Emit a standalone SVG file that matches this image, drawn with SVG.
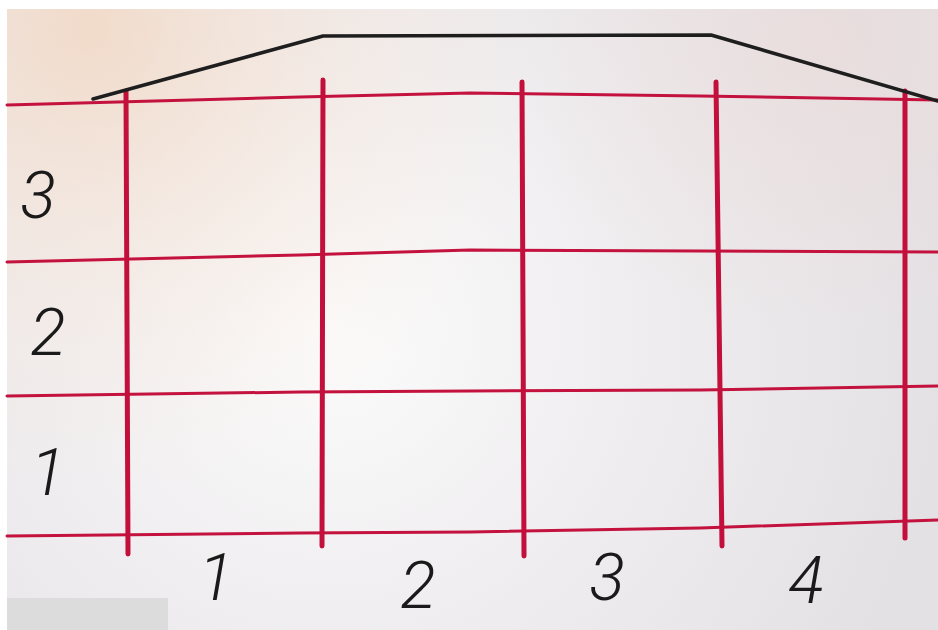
<svg xmlns="http://www.w3.org/2000/svg" width="938" height="630" viewBox="0 0 938 630">
<defs>
<radialGradient id="paper" cx="330" cy="330" r="620" gradientUnits="userSpaceOnUse">
<stop offset="0" stop-color="#fcfcfc"/>
<stop offset="0.5" stop-color="#efedef"/>
<stop offset="1" stop-color="#e4e1e4"/>
</radialGradient>
<radialGradient id="peach" cx="90" cy="30" r="460" gradientUnits="userSpaceOnUse">
<stop offset="0" stop-color="#f2d8c4" stop-opacity="0.85"/>
<stop offset="0.45" stop-color="#f5e2d4" stop-opacity="0.5"/>
<stop offset="1" stop-color="#f5e6dc" stop-opacity="0"/>
</radialGradient>
<radialGradient id="pinkR" cx="820" cy="40" r="300" gradientUnits="userSpaceOnUse">
<stop offset="0" stop-color="#ecdad8" stop-opacity="0.6"/>
<stop offset="1" stop-color="#ecdad8" stop-opacity="0"/>
</radialGradient>
</defs>
<style>
.h{fill:none;stroke:#c4123f;stroke-width:3;stroke-linecap:round;stroke-linejoin:round}
.v{fill:none;stroke:#c20f3c;stroke-width:5;stroke-linecap:round}
.roof{fill:none;stroke:#1e1e1e;stroke-width:3.5;stroke-linejoin:round;stroke-linecap:round}
.n{font-family:Roboto,"Liberation Sans","DejaVu Sans",sans-serif;font-style:italic;font-weight:300;font-size:66px;fill:#1a1a1a;text-anchor:middle}
</style>
<rect width="938" height="630" fill="#ffffff"/>
<rect x="7" y="9" width="931" height="621" fill="url(#paper)"/>
<rect x="7" y="9" width="931" height="621" fill="url(#peach)"/>
<rect x="7" y="9" width="931" height="621" fill="url(#pinkR)"/>
<rect x="7" y="598" width="161" height="32" fill="#dcdcdc"/>
<g id="grid-horizontal">
<polyline class="h" points="7,105 300,97 470,93 700,96 938,100"/>
<polyline class="h" points="7,262 300,255 470,250 700,251 938,252"/>
<polyline class="h" points="7,396 300,392 470,391 700,390 938,386"/>
<polyline class="h" points="7,536 300,533 470,532 700,528 938,520"/>
</g>
<g id="grid-vertical">
<line class="v" x1="126" y1="91" x2="128" y2="554"/>
<line class="v" x1="323" y1="80" x2="322" y2="546"/>
<line class="v" x1="522" y1="82" x2="524" y2="556"/>
<line class="v" x1="716" y1="82" x2="722" y2="546"/>
<line class="v" x1="905" y1="91" x2="905" y2="538"/>
</g>
<g id="roof">
<polyline class="roof" points="93,99 323,36 711,35 938,101"/>
</g>
<g id="row-labels">
<text class="n" x="38" y="218">3</text>
<text class="n" x="48" y="355">2</text>
<text class="n" x="48" y="495">1</text>
</g>
<g id="column-labels">
<text class="n" x="216" y="600" font-size="52">1</text>
<text class="n" x="418" y="608">2</text>
<text class="n" x="607" y="600">3</text>
<text class="n" x="806" y="603">4</text>
</g>
</svg>
